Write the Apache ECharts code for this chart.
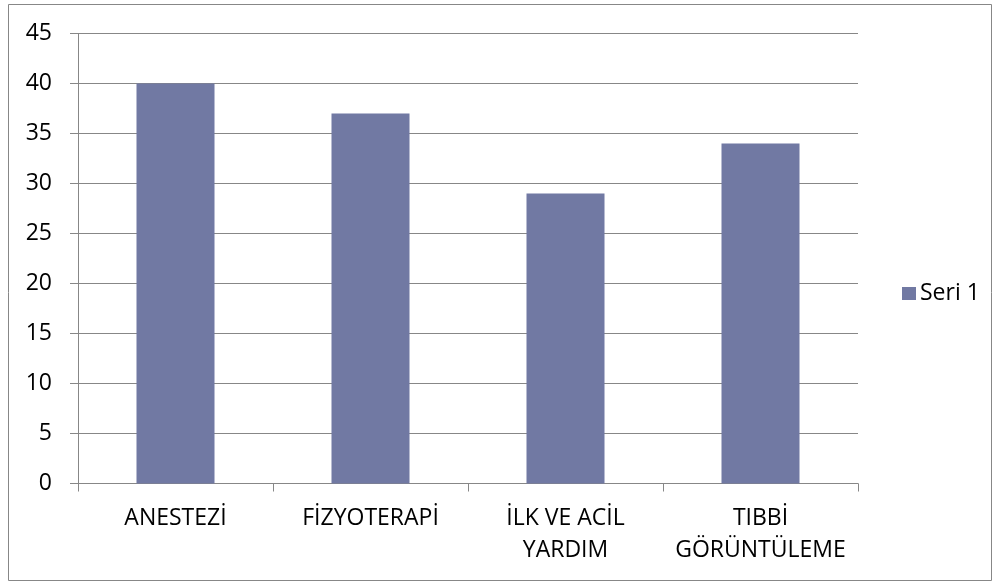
<!DOCTYPE html>
<html>
<head>
<meta charset="utf-8">
<script src="https://cdn.jsdelivr.net/npm/echarts@6/dist/echarts.min.js"></script>
<style>html,body{margin:0;padding:0;background:#fff;}#c{width:999px;height:582px;}</style>
</head>
<body>
<div id="c"></div>
<script>
const categories = ["ANESTEZİ", "FİZYOTERAPİ", "İLK VE ACİL\nYARDIM", "TIBBİ\nGÖRÜNTÜLEME"];
const seriesName = "Seri 1";
const values = [40, 37, 29, 34];
const yMin = 0, yMax = 45, yInterval = 5;

const font = "Open Sans";
const gray = "#878787";
const chart = echarts.init(document.getElementById('c'));
chart.setOption({
  animation: false,
  textStyle: { fontFamily: font },
  graphic: [{
    type: 'rect', shape: { x: 8.5, y: 4.5, width: 983, height: 576 },
    style: { fill: 'none', stroke: gray, lineWidth: 1 }, silent: true
  }],
  grid: { left: 78, right: 141, top: 33.5, bottom: 98.5 },
  legend: {
    data: [seriesName], left: 902, top: 282, padding: 0,
    itemWidth: 14, itemHeight: 13, itemGap: 0,
    icon: 'rect',
    textStyle: { fontFamily: font, fontSize: 23, color: '#000', padding: [0, 0, 0, -1] }
  },
  xAxis: {
    type: 'category', data: categories, boundaryGap: true,
    axisLine: { lineStyle: { color: gray, width: 1 } },
    axisTick: { show: true, length: 8, alignWithLabel: false, lineStyle: { color: gray } },
    axisLabel: { fontFamily: font, fontSize: 23, color: '#000', lineHeight: 32, margin: 19, interval: 0 }
  },
  yAxis: {
    type: 'value', min: yMin, max: yMax, interval: yInterval,
    axisLine: { show: true, lineStyle: { color: gray, width: 1 } },
    axisTick: { show: true, length: 8, lineStyle: { color: gray } },
    splitLine: { lineStyle: { color: gray, width: 1 } },
    axisLabel: { fontFamily: font, fontSize: 23, color: '#000', margin: 26 }
  },
  series: [{
    name: seriesName, type: 'bar', data: values, barWidth: 78,
    itemStyle: { color: '#7179a3' }
  }]
});
</script>
</body>
</html>
